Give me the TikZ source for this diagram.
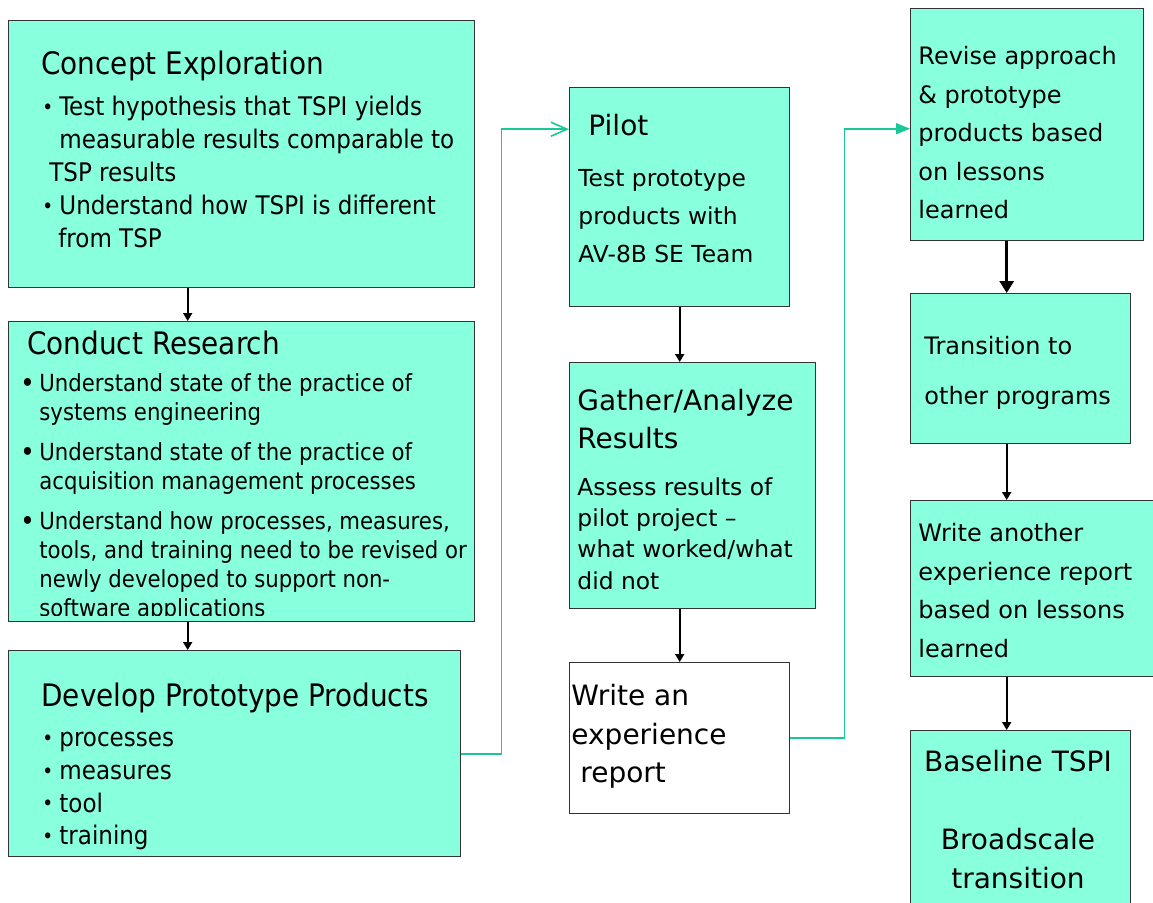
\documentclass[tikz,border=0pt]{standalone}
\usepackage{fontspec}
\setmainfont{DejaVu Sans}
\newfontfamily\condfont{DejaVu Sans Condensed}
\usetikzlibrary{arrows.meta}

\definecolor{aqua}{RGB}{136,255,221}
\definecolor{linkgreen}{RGB}{25,200,150}

\tikzset{
  box/.style={draw=black!80, fill=aqua, anchor=north west, inner sep=0pt, line width=0.7pt},
  txt/.style={anchor=north west, inner sep=0pt, align=left},
  down/.style={-{Triangle[length=4pt,width=4.5pt]}, line width=0.9pt},
  link/.style={linkgreen, line width=0.8pt}
}
\newcommand{\bul}[1][8.5pt]{\makebox[#1][l]{\raisebox{0.6pt}{\scalebox{0.8}{•}}}}
\newcommand{\bigbul}{\makebox[9.5pt][l]{\raisebox{-0.7pt}{\scalebox{1.15}{•}}}}

\begin{document}
\begin{tikzpicture}[x=0.5pt, y=-0.5pt]
\useasboundingbox (0,0) rectangle (1153,902);

% left column
\node[box, minimum width=233pt, minimum height=133.5pt] (explore) at (8,20) {};
\node[box, minimum width=233pt, minimum height=150pt] (research) at (8,321) {};
\node[box, minimum width=226pt, minimum height=103pt] (develop) at (8,650) {};

\node[txt, font=\condfont\fontsize{15.5}{18}\selectfont] (explore-t) at (41,51) {Concept Exploration};
\node[txt, font=\condfont\fontsize{12.8}{16.4}\selectfont] (explore-b) at (42,96) {%
  \bul Test hypothesis that TSPI yields\\
  \hspace*{8.5pt}measurable results comparable to\\
  \hspace*{3.5pt}TSP results\\
  \bul Understand how TSPI is different\\
  \hspace*{8pt}from TSP};

\node[txt, font=\condfont\fontsize{15.5}{18}\selectfont] (research-t) at (27,331) {Conduct Research};
\begin{scope}
\clip (research.north west) rectangle ([yshift=3.5pt]research.south east);
\node[txt, font=\condfont\fontsize{11.8}{14.5}\selectfont] (research-b) at (20,373) {%
  \bigbul Understand state of the practice of\\
  \hspace*{9.5pt}systems engineering\\[5.5pt]
  \bigbul Understand state of the practice of\\
  \hspace*{9.5pt}acquisition management processes\\[5.5pt]
  \bigbul Understand how processes, measures,\\
  \hspace*{9.5pt}tools, and training need to be revised or\\
  \hspace*{9.5pt}newly developed to support non-\\
  \hspace*{9.5pt}software applications};
\end{scope}

\node[txt, font=\condfont\fontsize{15.5}{18}\selectfont] (develop-t) at (41,683) {Develop Prototype Products};
\node[txt, font=\condfont\fontsize{12.8}{16.3}\selectfont] (develop-b) at (42,727) {%
  \bul processes\vphantom{Tl}\\
  \bul measures\\
  \bul tool\\
  \bul training};

% middle column
\node[box, minimum width=110pt, minimum height=109.5pt] (pilot) at (569,87) {};
\node[box, minimum width=123pt, minimum height=123pt] (gather) at (569,362) {};
\node[box, fill=white, minimum width=110pt, minimum height=75.5pt] (report) at (569,662) {};

\node[txt, font=\fontsize{14}{19}\selectfont] (pilot-t) at (588,114) {Pilot};
\node[txt, font=\fontsize{11.7}{19}\selectfont] (pilot-b) at (578,169) {%
  Test prototype\\ products with\\ AV-8B SE Team};

\node[txt, font=\fontsize{14}{19}\selectfont] (gather-t) at (577,389) {%
  Gather/Analyze\\ Results};
\node[txt, font=\fontsize{11.7}{15.7}\selectfont] (gather-b) at (577,477) {%
  Assess results of\\ pilot project –\\ what worked/what\\ did not};

\node[txt, font=\fontsize{14}{19.25}\selectfont] (report-t) at (571,684) {%
  Write an\\ experience\\ \hspace*{4.5pt}report};

% right column
\node[box, minimum width=116.5pt, minimum height=116pt] (revise) at (910,8) {};
\node[box, minimum width=110pt, minimum height=75pt] (transit) at (910,293) {};
\node[box, minimum width=125pt, minimum height=88pt] (another) at (910,500) {};
\node[box, minimum width=110pt, minimum height=100pt] (baseline) at (910,730) {};

\node[txt, font=\fontsize{12}{19.25}\selectfont] (revise-t) at (918,46) {%
  Revise approach\\ \& prototype\\ products based\\ on lessons\\ learned};
\node[txt, font=\fontsize{12}{25}\selectfont] (transit-t) at (924,336) {%
  Transition to\\ other programs};
\node[txt, font=\fontsize{12}{19.3}\selectfont] (another-t) at (918,523) {%
  Write another\\ experience report\\ based on lessons\\ learned};
\node[txt, anchor=north, align=center, font=\fontsize{14}{19.5}\selectfont] (baseline-t) at (1018,750) {%
  Baseline TSPI\\ \\ Broadscale\\ transition};

% black arrows
\draw[down] ([xshift=-27pt]explore.south) -- ([xshift=-27pt]research.north);
\draw[down] ([xshift=-27pt]research.south) -- ([xshift=-27pt]research.south |- develop.north);
\draw[down] (pilot.south) -- (pilot.south |- gather.north);
\draw[down] (report.north |- gather.south) -- (report.north);
\draw[down, line width=1.6pt, -{Triangle[length=6pt,width=7pt]}] ([xshift=-7pt]transit.north |- revise.south) -- ([xshift=-7pt]transit.north);
\draw[down] ([xshift=-7pt]transit.south) -- ([xshift=-7pt]transit.south |- another.north);
\draw[down] ([xshift=-7pt]baseline.north |- another.south) -- ([xshift=-7pt]baseline.north);

% green links
\draw[link, -{Straight Barb[length=8pt,width=7pt]}] (develop.east) -- ++(40,0) |- ([yshift=34pt]pilot.west);
\draw[link, -{Triangle[length=7pt,width=5.5pt]}] (report.east) -- ++(54,0) |- ([yshift=-2pt]revise.west);
\end{tikzpicture}
\end{document}
